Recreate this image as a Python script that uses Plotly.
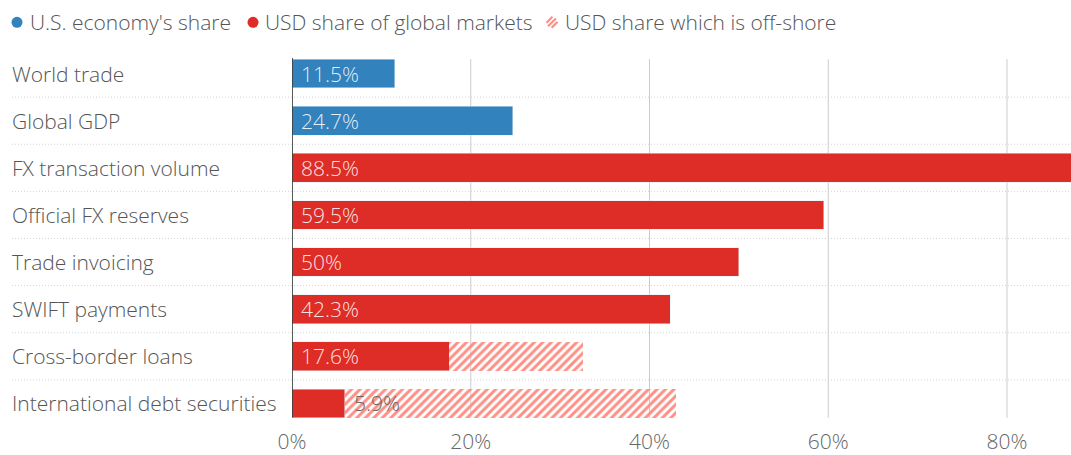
import math
import plotly.graph_objects as go

# categories top to bottom
categories = ["World trade", "Global GDP", "FX transaction volume", "Official FX reserves",
              "Trade invoicing", "SWIFT payments", "Cross-border loans", "International debt securities"]
us_share = [11.5, 24.7, None, None, None, None, None, None]
usd_share = [None, None, 88.5, 59.5, 50, 42.3, 17.6, 5.9]
offshore = [None, None, None, None, None, None, 15.0, 37.1]
value_labels = ["11.5%", "24.7%", "88.5%", "59.5%", "50%", "42.3%", "17.6%", "5.9%"]
x_ticks = [0, 20, 40, 60, 80]
x_ticktext = ["0%", "20%", "40%", "60%", "80%"]
legend_names = ["U.S. economy's share", "USD share of global markets", "USD share which is off-shore"]

BLUE = "#3182bd"
RED = "#de2d26"
SALMON = "#ff8f85"
FONT = "Open Sans"
FS = 21
WT = 300
W, H = 1071, 455
L, R, T, B = 292, 0, 50, 24
pw, ph = W - L - R, H - T - B


def px_x(p):
    return (p - L) / pw


def px_y(p):
    return (H - B - p) / ph


fig = go.Figure()
fig.add_bar(y=categories, x=us_share, orientation="h", marker_color=BLUE, width=0.61,
            name=legend_names[0], showlegend=False)
fig.add_bar(y=categories, x=usd_share, orientation="h", marker_color=RED, width=0.61,
            name=legend_names[1], showlegend=False)
fig.add_bar(y=categories, x=offshore, orientation="h", width=0.61,
            marker=dict(color="rgba(0,0,0,0)", line=dict(width=0),
                        pattern=dict(shape="/", fgcolor=SALMON, bgcolor="rgba(0,0,0,0)",
                                     fgopacity=1, size=6, solidity=0.5, fillmode="overlay")),
            name=legend_names[2], showlegend=False)

shapes = []
# gridlines
for v in x_ticks[1:]:
    shapes.append(dict(type="line", x0=v, x1=v, y0=-0.305, y1=7.305, xref="x", yref="y",
                       line=dict(color="#cccccc", width=1), layer="below"))
# zero line
shapes.append(dict(type="line", x0=0, x1=0, y0=-0.33, y1=7.305, xref="x", yref="y",
                   line=dict(color="#222222", width=1.5), layer="above"))
# row separators
for i in range(len(categories) - 1):
    shapes.append(dict(type="line", x0=px_x(12), x1=1, y0=i + 0.5, y1=i + 0.5,
                       xref="paper", yref="y",
                       line=dict(color="#d4d4d4", width=1, dash="1px,2px"), layer="below"))

annotations = []
for c in categories:
    annotations.append(dict(x=px_x(10), y=c, xref="paper", yref="y", text=c, showarrow=False,
                            xanchor="left", yanchor="middle",
                            font=dict(family=FONT, size=FS, color="#555555", weight=WT)))

# value labels
for i, c in enumerate(categories):
    if c == "International debt securities":
        annotations.append(dict(x=usd_share[i], y=c, xref="x", yref="y", text=value_labels[i],
                                showarrow=False, xanchor="left", yanchor="middle", xshift=7,
                                font=dict(family=FONT, size=FS, color="#666666", weight=WT)))
    else:
        annotations.append(dict(x=0, y=c, xref="x", yref="y", text=value_labels[i],
                                showarrow=False, xanchor="left", yanchor="middle", xshift=7,
                                font=dict(family=FONT, size=FS, color="rgba(255,255,255,0.88)",
                                          weight=WT)))

# legend built by hand: (name, colour, icon centre x, text x)
legend_items = [(legend_names[0], BLUE, 17, 28), (legend_names[1], RED, 253, 263),
                (legend_names[2], SALMON, 552, 563)]
LY = 22
for name, col, cx, tx in legend_items:
    if col == SALMON:
        r = 5.5
        for d in (-3.6, 0, 3.6):
            hl = math.sqrt(r * r - d * d)
            ox, oy = d / math.sqrt(2), -d / math.sqrt(2)
            ux = hl / math.sqrt(2)
            shapes.append(dict(type="line", xref="paper", yref="paper", xsizemode="pixel",
                               ysizemode="pixel", xanchor=px_x(cx), yanchor=px_y(LY),
                               x0=ox - ux, x1=ox + ux, y0=oy - ux, y1=oy + ux,
                               line=dict(color=col, width=2.2)))
    else:
        shapes.append(dict(type="circle", xref="paper", yref="paper", xsizemode="pixel",
                           ysizemode="pixel", xanchor=px_x(cx), yanchor=px_y(LY),
                           x0=-5.5, x1=5.5, y0=-5.5, y1=5.5,
                           fillcolor=col, line=dict(width=0)))
    annotations.append(dict(x=px_x(tx), y=px_y(LY), xref="paper", yref="paper",
                            text=name, showarrow=False, xanchor="left", yanchor="middle",
                            font=dict(family=FONT, size=FS, color="#555555", weight=WT)))

fig.update_layout(
    width=W, height=H, barmode="stack",
    margin=dict(l=L, r=R, t=T, b=B),
    plot_bgcolor="white", paper_bgcolor="white",
    font=dict(family=FONT, size=FS, color="#666666", weight=WT),
    shapes=shapes, annotations=annotations,
    xaxis=dict(range=[0, 87.16], tickvals=x_ticks, ticktext=x_ticktext, showgrid=False,
               zeroline=False, showline=False, ticks="", fixedrange=True,
               tickfont=dict(family=FONT, size=FS, color="#666666", weight=WT)),
    yaxis=dict(categoryorder="array", categoryarray=categories, autorange=False,
               range=[7.5, -0.5], showticklabels=False, showgrid=False, zeroline=False),
)

fig.write_html("out.html", config={"displayModeBar": False},
               post_script="document.body.style.margin='0';")
